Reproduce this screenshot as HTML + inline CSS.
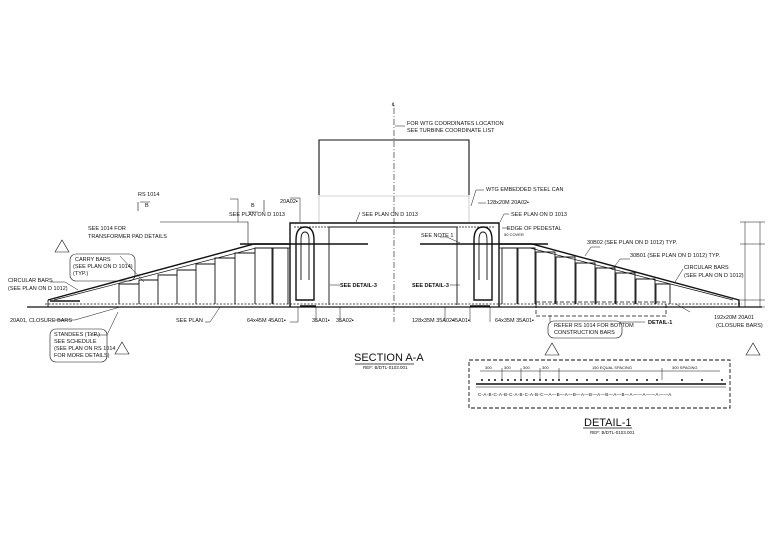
<!DOCTYPE html>
<html><head><meta charset="utf-8"><style>
html,body{margin:0;padding:0;background:#fff;}
svg{display:block;font-family:"Liberation Sans",sans-serif;}
text{fill:#111;}
</style></head><body>
<svg width="768" height="555" viewBox="0 0 768 555" xmlns="http://www.w3.org/2000/svg" font-size="5.5">
<rect width="768" height="555" fill="#fff"/>
<g stroke="#111" fill="none" stroke-width="0.9">
<line x1="394" y1="108" x2="394" y2="322" stroke-dasharray="6,2,1,2" stroke-width="0.6"/>
<path d="M319,195 V140 H469 V195" stroke-width="1.1"/>
<path d="M319,195 V222 M469,195 V222 M319,196 H469" stroke="#aaa" stroke-width="0.6"/>
<line x1="27" y1="307" x2="762" y2="307" stroke-width="1.2"/>
<line x1="45" y1="304" x2="742" y2="304" stroke-width="0.8" stroke-dasharray="2,1.5"/>
<path d="M48,300 L254,244 H290" stroke-width="1.4"/>
<path d="M54,300 L256,248 H290" stroke-width="0.7"/>
<path d="M48,300 V307"/>
<path d="M499,244 H532 L739,300 V307" stroke-width="1.4"/>
<path d="M499,248 H530 L733,300" stroke-width="0.7"/>
<path d="M290,307 V223 H499 V307" stroke-width="1.4"/>
<path d="M329,305 V227 H457 V305" stroke-width="0.9"/>
<path d="M294,227 H495" stroke-width="0.8" stroke-dasharray="2,1"/>
<path d="M240,244 H368 M420,244 H548" stroke-width="1.4"/>
<path d="M296,300 V240 Q296,227 305,227 Q314,227 314,240 V300 Z" stroke-width="1.4"/>
<path d="M301,280 V240 Q301,232 305,232 Q309,232 309,240 V280"/>
<path d="M474,300 V240 Q474,227 483,227 Q492,227 492,240 V300 Z" stroke-width="1.4"/>
<path d="M479,280 V240 Q479,232 483,232 Q487,232 487,240 V280"/>
<path d="M119,304 V284 H139 V304 M139,304 V280 H158 V304 M158,304 V275 H177 V304 M177,304 V270 H196 V304 M196,304 V264 H215 V304 M215,304 V258 H235 V304 M235,304 V253 H255 V304 M255,304 V248 H272 V304 M273,304 V248 H288 V304"/>
<path d="M502,304 V248 H517 V304 M518,304 V248 H535 V304 M536,304 V252 H555 V304 M556,304 V257 H575 V304 M576,304 V263 H595 V304 M596,304 V268 H615 V304 M616,304 V273 H635 V304 M636,304 V279 H655 V304 M656,304 V284 H670 V304"/>
<path d="M50,301 H80 M300,306 H316 M470,306 H490" stroke-width="1.6"/>
<rect x="536" y="302" width="130" height="14" stroke-dasharray="4,2" stroke-width="0.8"/>
<path d="M745,222 V307 M760,222 V307 M740,222 H765 M740,244 H765 M740,300 H765 M740,307 H765" stroke-width="0.5"/>
<path d="M160,222 H248 V244" stroke-width="0.6"/>
<g stroke-width="0.5">
<path d="M395,126 L405,126 M471,206 L476,190 H484 M478,203 H486 M230,199 H238 V222 M290,198 H300 V222 M360,212 L356,222 M120,256 L144,282 M50,282 H65 L78,290 M54,320 H75 L120,307 M205,322 H210 L220,307 M290,322 H298 V307 M316,322 V307 M340,322 V307 M445,322 V307 M470,322 V307 M490,322 V307 M550,322 V315 M620,322 H645 M690,312 L676,304 M600,247 H591 L585,256 M630,259 H620 L612,270 M683,269 L675,282 M440,237 H447 L460,243 M500,222 L504,214 H509 M502,228 L510,228 M340,285 H330 M460,285 H450 M88,335 H107 L118,312"/>
</g>
<rect x="70" y="254" width="65" height="27" rx="6" stroke-width="0.6"/>
<rect x="50" y="329" width="57" height="33" rx="6" stroke-width="0.6"/>
<rect x="548" y="321" width="74" height="17" rx="6" stroke-width="0.6"/>
<path d="M55,252 L62,240 L69,252 Z M115,354 L122,342 L129,354 Z M545,355 L552,343 L559,355 Z M746,355 L753,343 L760,355 Z" stroke-width="0.6"/>
<path d="M138,211 V202 M140,202 H150 M248,212 H258 M264,200 V212" stroke-width="0.6"/>
<rect x="469" y="360" width="261" height="48" stroke-dasharray="4,2" stroke-width="0.9"/>
<line x1="476" y1="384" x2="726" y2="384" stroke-width="1.6"/>
<line x1="476" y1="387" x2="726" y2="387" stroke-width="0.5"/>
<path d="M480,371 H557 M557,371 H720 M502,368 V380 M521,368 V380 M540,368 V380 M559,368 V380 M662,368 V380" stroke-width="0.5"/>
<line x1="355" y1="364" x2="414" y2="364" stroke-width="0.8"/>
<line x1="583" y1="428" x2="632" y2="428" stroke-width="0.8"/>
</g>
<g fill="#111">
<circle cx="482" cy="380" r="1"/><circle cx="489" cy="380" r="1"/><circle cx="495" cy="380" r="1"/><circle cx="502" cy="380" r="1"/><circle cx="508" cy="380" r="1"/><circle cx="515" cy="380" r="1"/><circle cx="521" cy="380" r="1"/><circle cx="527" cy="380" r="1"/><circle cx="534" cy="380" r="1"/><circle cx="540" cy="380" r="1"/><circle cx="546" cy="380" r="1"/><circle cx="553" cy="380" r="1"/><circle cx="559" cy="380" r="1"/><circle cx="567" cy="380" r="1"/><circle cx="577" cy="380" r="1"/><circle cx="587" cy="380" r="1"/><circle cx="597" cy="380" r="1"/><circle cx="607" cy="380" r="1"/><circle cx="617" cy="380" r="1"/><circle cx="627" cy="380" r="1"/><circle cx="637" cy="380" r="1"/><circle cx="647" cy="380" r="1"/><circle cx="657" cy="380" r="1"/><circle cx="682" cy="380" r="1"/><circle cx="702" cy="380" r="1"/><circle cx="722" cy="380" r="1"/>
</g>
<text x="392" y="106" font-size="5">℄</text>
<text x="407" y="125">FOR WTG COORDINATES LOCATION</text>
<text x="407" y="132">SEE TURBINE COORDINATE LIST</text>
<text x="486" y="191">WTG EMBEDDED STEEL CAN</text>
<text x="487" y="204">128x20M 20A02▪</text>
<text x="511" y="216">SEE PLAN ON D 1013</text>
<text x="507" y="230">EDGE OF PEDESTAL</text>
<text x="504" y="236" font-size="4">50 COVER</text>
<text x="421" y="237">SEE NOTE 1</text>
<text x="362" y="216">SEE PLAN ON D 1013</text>
<text x="280" y="203">20A02▪</text>
<text x="229" y="216">SEE PLAN ON D 1013</text>
<text x="138" y="196">RS 1014</text>
<text x="145" y="207">B</text>
<text x="251" y="207">B</text>
<text x="88" y="230">SEE 1014 FOR</text>
<text x="88" y="238">TRANSFORMER PAD DETAILS</text>
<text x="75" y="261">CARRY BARS</text>
<text x="73" y="268">(SEE PLAN ON D 1014)</text>
<text x="73" y="275">(TYP.)</text>
<text x="8" y="282">CIRCULAR BARS</text>
<text x="8" y="290">(SEE PLAN ON D 1012)</text>
<text x="10" y="322">20A01, CLOSURE BARS</text>
<text x="54" y="336">STANDEES (TYP.)</text>
<text x="54" y="343">SEE SCHEDULE</text>
<text x="54" y="350">(SEE PLAN ON RS 1014</text>
<text x="54" y="357">FOR MORE DETAILS)</text>
<text x="176" y="322">SEE PLAN</text>
<text x="247" y="322">64x45M 45A01▪</text>
<text x="312" y="322">35A01▪</text>
<text x="336" y="322">35A02▪</text>
<text x="412" y="322">128x35M 35A02▪</text>
<text x="452" y="322">45A01▪</text>
<text x="495" y="322">64x35M 35A01▪</text>
<text x="340" y="287" font-weight="bold">SEE DETAIL-3</text>
<text x="412" y="287" font-weight="bold">SEE DETAIL-3</text>
<text x="587" y="244">30B02 (SEE PLAN ON D 1012) TYP.</text>
<text x="630" y="257">30B01 (SEE PLAN ON D 1012) TYP.</text>
<text x="684" y="269">CIRCULAR BARS</text>
<text x="684" y="277">(SEE PLAN ON D 1012)</text>
<text x="554" y="327">REFER RS 1014 FOR BOTTOM</text>
<text x="554" y="334">CONSTRUCTION BARS</text>
<text x="648" y="324" font-weight="bold">DETAIL-1</text>
<text x="714" y="319">192x20M 20A01</text>
<text x="716" y="327">(CLOSURE BARS)</text>
<text x="354" y="361" font-size="11">SECTION A-A</text>
<text x="363" y="369" font-size="4.5">REF: B/DTL-0103.001</text>
<text x="584" y="426" font-size="11">DETAIL-1</text>
<text x="590" y="434" font-size="4.5">REF: B/DTL-0103.001</text>
<text x="592" y="369" font-size="4">150 EQUAL SPACING</text>
<text x="672" y="369" font-size="4">300 SPACING</text>
<text x="485" y="369" font-size="4">300</text><text x="504" y="369" font-size="4">300</text><text x="523" y="369" font-size="4">300</text><text x="542" y="369" font-size="4">300</text>
<text x="478" y="396" font-size="4.5" letter-spacing="0.3">C-A-B-C-A-B-C-A-B-C-A-B-C—A—B—A—B—A—B—A—B—A—B—A——A——A——A</text>
</svg>
</body></html>
